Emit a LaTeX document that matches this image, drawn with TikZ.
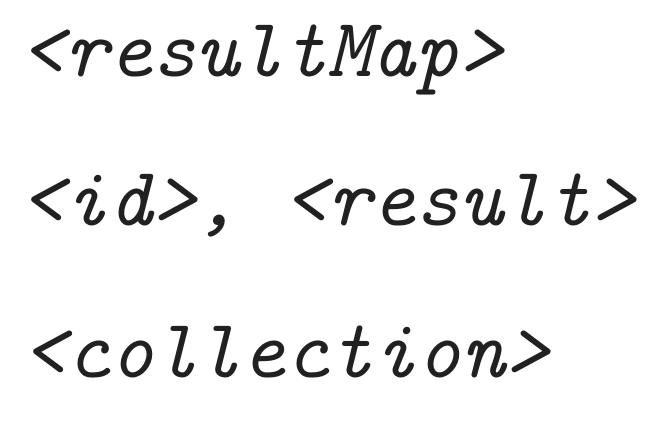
\documentclass[tikz,border=0pt]{standalone}
\usepackage{fontspec}
\usepackage{tikz}
\usetikzlibrary{positioning}

\tikzset{codeline/.style={anchor=base west, inner sep=0pt, text=black!87,
  font=\fontsize{84}{100}\selectfont\ttfamily\itshape}}

\begin{document}
\begin{tikzpicture}[x=1bp, y=-1bp]
    \useasboundingbox (0, 0) rectangle (665, 422);
    \node[codeline] (resultmap) at (20, 76) {<resultMap>};
    \node[codeline] (idresult) at (20, 225) {<id>, <result>};
    \node[codeline] (collection) at (22, 377) {<collection>};
\end{tikzpicture}
\end{document}
